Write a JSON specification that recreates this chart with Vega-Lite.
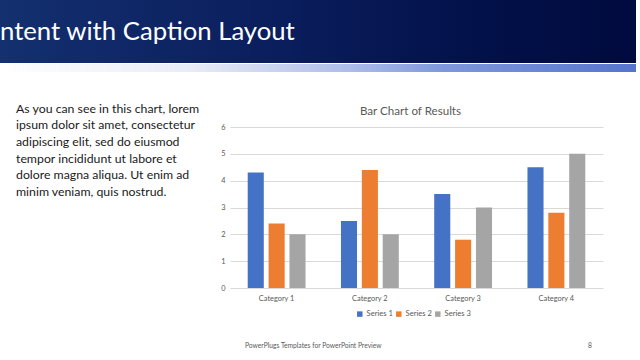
{
  "$schema": "https://vega.github.io/schema/vega-lite/v6.json",
  "padding": 0,
  "background": "white",
  "bounds": "flush",
  "spacing": 0,
  "config": {"view": {"stroke": null}, "font": "Lato", "text": {"font": "Lato"}},
  "resolve": {"legend": {"color": "independent"}, "scale": {"color": "independent"}},
  "vconcat": [
    {
      "width": 636,
      "height": 127,
      "layer": [
        {
          "data": {"values": [{"part": "band"}]},
          "mark": {"type": "rect", "fill": {"gradient": "linear", "x1": 0, "y1": 0, "x2": 1, "y2": 0, "stops": [{"offset": 0, "color": "#14306f"}, {"offset": 0.45, "color": "#0a1d5c"}, {"offset": 0.75, "color": "#03114a"}, {"offset": 1, "color": "#000a3e"}]}},
          "encoding": {
            "y": {"datum": 0, "type": "quantitative", "scale": {"domain": [0, 127], "reverse": true, "nice": false, "zero": false}, "axis": null},
            "y2": {"datum": 63}
          }
        },
        {
          "data": {"values": [{"part": "strip"}]},
          "mark": {"type": "rect", "fill": {"gradient": "linear", "x1": 0, "y1": 0, "x2": 1, "y2": 0, "stops": [{"offset": 0, "color": "#ffffff"}, {"offset": 0.3, "color": "#e8ecf6"}, {"offset": 0.55, "color": "#aebde9"}, {"offset": 0.7, "color": "#7e97dc"}, {"offset": 1, "color": "#5674cd"}]}},
          "encoding": {
            "y": {"datum": 64, "type": "quantitative"},
            "y2": {"datum": 72}
          }
        },
        {
          "data": {"values": [{"label": "ntent with Caption Layout"}]},
          "mark": {"type": "text", "align": "left", "baseline": "alphabetic", "fontSize": 25.7, "color": "#ffffff", "font": "Lato"},
          "encoding": {
            "x": {"datum": 0, "type": "quantitative", "scale": {"domain": [0, 636], "nice": false, "zero": false}, "axis": null},
            "y": {"datum": 40, "type": "quantitative"},
            "text": {"field": "label"}
          }
        },
        {
          "data": {"values": [{"label": "PowerPlugs Templates for PowerPoint  Preview"}]},
          "mark": {"type": "text", "align": "left", "baseline": "alphabetic", "fontSize": 6.7, "color": "#595959", "font": "Lato"},
          "encoding": {
            "x": {"datum": 245, "type": "quantitative"},
            "y": {"datum": 348, "type": "quantitative"},
            "text": {"field": "label"}
          }
        },
        {
          "data": {"values": [{"label": "8"}]},
          "mark": {"type": "text", "align": "center", "baseline": "alphabetic", "fontSize": 6.7, "color": "#595959", "font": "Lato"},
          "encoding": {
            "x": {"datum": 590, "type": "quantitative"},
            "y": {"datum": 348, "type": "quantitative"},
            "text": {"field": "label"}
          }
        }
      ]
    },
    {
      "bounds": "flush",
      "spacing": 0,
      "resolve": {"legend": {"color": "independent"}, "scale": {"color": "independent"}},
      "hconcat": [
        {
          "width": 230,
          "height": 161,
          "data": {"values": [
            {"line": 1, "text": "As you can see in this chart, lorem"},
            {"line": 2, "text": "ipsum dolor sit amet, consectetur"},
            {"line": 3, "text": "adipiscing elit, sed do eiusmod"},
            {"line": 4, "text": "tempor incididunt ut labore et"},
            {"line": 5, "text": "dolore magna aliqua. Ut enim ad"},
            {"line": 6, "text": "minim veniam, quis nostrud."}
          ]},
          "mark": {"type": "text", "align": "left", "baseline": "alphabetic", "fontSize": 12.3, "color": "#1a1a1a", "font": "Lato"},
          "encoding": {
            "x": {"datum": 16, "type": "quantitative", "scale": {"domain": [0, 230], "nice": false, "zero": false}, "axis": null},
            "y": {"field": "line", "type": "quantitative", "scale": {"domain": [1.858, 11.522], "reverse": true, "nice": false, "zero": false}, "axis": null},
            "text": {"field": "text"}
          }
        },
        {
          "width": 373,
          "height": 161,
          "title": {"text": "Bar Chart of Results", "font": "Lato", "fontSize": 11.6, "fontWeight": "normal", "color": "#595959", "anchor": "middle", "offset": 5, "dx": -6},
          "data": {"values": [
            {"category": "Category 1", "series": "Series 1", "value": 4.3},
            {"category": "Category 1", "series": "Series 2", "value": 2.4},
            {"category": "Category 1", "series": "Series 3", "value": 2.0},
            {"category": "Category 2", "series": "Series 1", "value": 2.5},
            {"category": "Category 2", "series": "Series 2", "value": 4.4},
            {"category": "Category 2", "series": "Series 3", "value": 2.0},
            {"category": "Category 3", "series": "Series 1", "value": 3.5},
            {"category": "Category 3", "series": "Series 2", "value": 1.8},
            {"category": "Category 3", "series": "Series 3", "value": 3.0},
            {"category": "Category 4", "series": "Series 1", "value": 4.5},
            {"category": "Category 4", "series": "Series 2", "value": 2.8},
            {"category": "Category 4", "series": "Series 3", "value": 5.0}
          ]},
          "mark": {"type": "bar"},
          "encoding": {
            "x": {
              "field": "category", "type": "nominal",
              "scale": {"paddingInner": 0.38, "paddingOuter": 0.19},
              "axis": {"title": null, "labelAngle": 0, "ticks": false, "domain": false, "labelFont": "Lato", "labelFontSize": 7.4, "labelColor": "#595959", "labelPadding": 6}
            },
            "xOffset": {"field": "series", "type": "nominal", "scale": {"paddingInner": 0.23, "paddingOuter": 0}},
            "y": {
              "field": "value", "type": "quantitative",
              "scale": {"domain": [0, 6], "nice": false},
              "axis": {"title": null, "values": [0, 1, 2, 3, 4, 5, 6], "ticks": false, "domain": false, "gridColor": "#d9d9d9", "gridWidth": 1, "labelFont": "Lato", "labelFontSize": 7.4, "labelColor": "#595959", "labelPadding": 5}
            },
            "color": {
              "field": "series", "type": "nominal",
              "scale": {"domain": ["Series 1", "Series 2", "Series 3"], "range": ["#4472C4", "#ED7D31", "#A5A5A5"]},
              "legend": {"orient": "none", "legendX": 126, "legendY": 183, "title": null, "direction": "horizontal", "symbolType": "square", "symbolSize": 30, "symbolStrokeWidth": 0, "labelFont": "Lato", "labelFontSize": 7.6, "labelColor": "#595959", "columnPadding": 2, "labelOffset": 3}
            }
          }
        }
      ]
    }
  ]
}
